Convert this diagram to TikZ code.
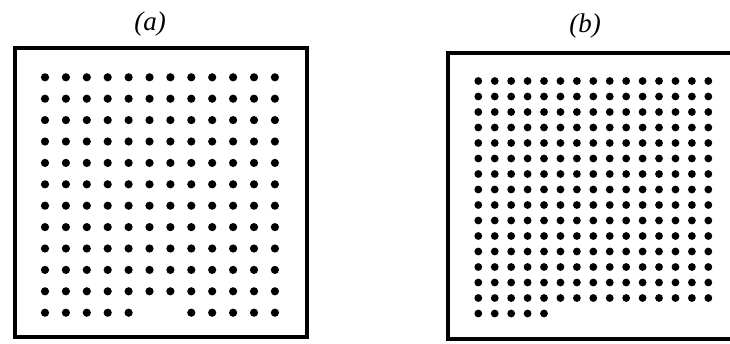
\documentclass[tikz,border=0pt]{standalone}
\usepackage{fontspec}
\setmainfont{Liberation Serif}
\usepackage{tikz}

\begin{document}
\begin{tikzpicture}[x=1pt,y=-1pt,
 frame/.style={draw=black,line width=3.5pt},
 dot/.style={fill=black},
 tag/.style={font=\fontsize{27}{30}\selectfont\itshape}]
\clip (0,0) rectangle (730,343);
% panel (a): 12 x 12 lattice, two sites missing in the last row
\node[tag] (taga) at (150,24) {(a)};
\draw[frame] (15,48) rectangle (307,337);
\foreach \r in {0,...,11}
 \foreach \c in {0,...,11}{
  \ifnum\r=11 \ifnum\c>4 \ifnum\c<7 \else
   \fill[dot] (45+20.9*\c,77.3+21.4*\r) circle (4.1);
  \fi \else
   \fill[dot] (45+20.9*\c,77.3+21.4*\r) circle (4.1);
  \fi \else
   \fill[dot] (45+20.9*\c,77.3+21.4*\r) circle (4.1);
  \fi}
% panel (b): 15 x 15 lattice plus a short extra row
\node[tag] (tagb) at (585,26) {(b)};
\draw[frame] (448,53) rectangle (760,339);
\foreach \r in {0,...,14}
 \foreach \c in {0,...,14}
  \fill[dot] (478.3+16.43*\c,81+15.5*\r) circle (3.9);
\foreach \c in {0,...,4}
 \fill[dot] (478.3+16.43*\c,81+15.5*15) circle (3.9);
\end{tikzpicture}
\end{document}
